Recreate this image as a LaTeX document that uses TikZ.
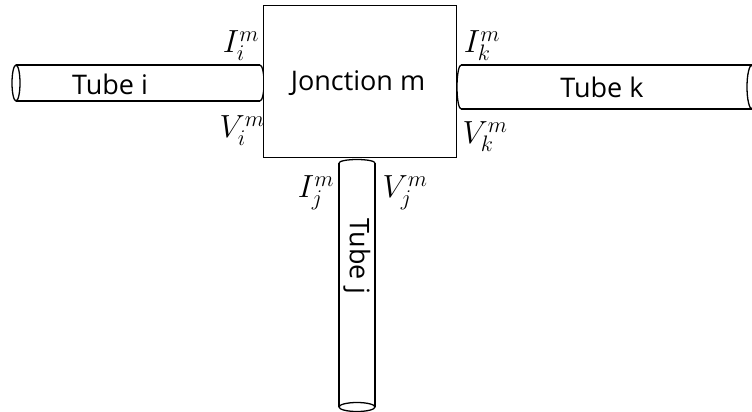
\RequirePackage{fix-cm}
\documentclass[tikz,border=0pt]{standalone}
\usepackage{fontspec}
\setmainfont{Open Sans}
\begin{document}
\begin{tikzpicture}[x=1pt,y=-1pt,line width=1.3pt,
  lbl/.style={font=\fontsize{27}{32}\selectfont, inner sep=0pt},
  mlbl/.style={font=\fontsize{32}{36}\selectfont, inner sep=0pt}]
\useasboundingbox (0,0) rectangle (752,412);
% tube i
\draw (16,83) ellipse [x radius=4, y radius=18];
\draw (16,65) -- (260,65);
\draw (16,101) -- (260,101);
\draw (260,65) arc [start angle=90, end angle=-90, x radius=4, y radius=-18];
% tube k
\begin{scope}
\clip (0,0) rectangle (752,412);
\draw (461,65) -- (752,65);
\draw (461,109) -- (752,109);
\draw (461,65) arc [start angle=90, end angle=270, x radius=4, y radius=-22];
\draw (752,87) ellipse [x radius=5, y radius=22];
\end{scope}
% tube j
\draw (339,163) -- (339,407);
\draw (375,163) -- (375,407);
\draw (339,163) arc [start angle=180, end angle=0, x radius=18, y radius=-3.5];
\draw (357,407) ellipse [x radius=18, y radius=4.5];
% junction box
\node (box) [draw, fill=white, minimum width=193pt, minimum height=152pt, inner sep=0pt, anchor=north west] at (263,5) {};
\node (jm) [lbl] at (358,83) {Jonction m};
\node (tubei) [lbl] at (110,84) {Tube i};
\node (tubek) [lbl] at (602,87) {Tube k};
\node (tubej) [lbl, rotate=-90] at (357,256) {Tube j};
% labels
\node (Ii) [mlbl] at (241,46) {$I_i^m$};
\node (Vi) [mlbl] at (242,131) {$V_i^m$};
\node (Ik) [mlbl] at (482,46) {$I_k^m$};
\node (Vk) [mlbl] at (485,137) {$V_k^m$};
\node (Ij) [mlbl] at (316,193) {$I_j^m$};
\node (Vj) [mlbl] at (405,193) {$V_j^m$};
\end{tikzpicture}
\end{document}
